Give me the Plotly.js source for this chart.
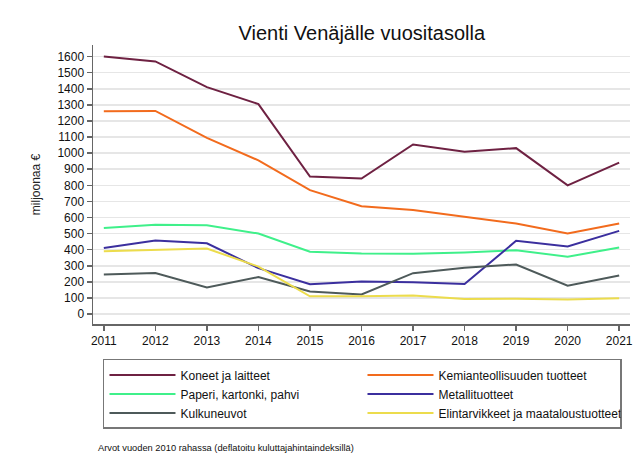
<!DOCTYPE html>
<html>
<head>
<meta charset="utf-8">
<script src="https://cdn.plot.ly/plotly-3.0.1.min.js"></script>
<style>html,body{margin:0;padding:0;background:#fff;}#chart{width:637px;height:468px;}</style>
</head>
<body>
<div id="chart"></div>
<script>
const years = [2011, 2012, 2013, 2014, 2015, 2016, 2017, 2018, 2019, 2020, 2021];
const koneet = [1600, 1570, 1410, 1305, 855, 842, 1054, 1009, 1031, 800, 941];
const kemia = [1260, 1262, 1095, 955, 770, 670, 647, 604, 562, 500, 562];
const paperi = [535, 555, 552, 500, 387, 376, 374, 383, 397, 356, 413];
const metalli = [410, 457, 440, 285, 185, 202, 198, 186, 455, 420, 517];
const kulku = [245, 255, 165, 230, 140, 122, 254, 288, 308, 176, 240];
const elintarv = [390, 400, 407, 295, 110, 110, 115, 93, 95, 91, 98];
const seriesNames = ["Koneet ja laitteet", "Kemianteollisuuden tuotteet", "Paperi, kartonki, pahvi", "Metallituotteet", "Kulkuneuvot", "Elintarvikkeet ja maataloustuotteet"];
const seriesValues = [koneet, kemia, paperi, metalli, kulku, elintarv];
const colors = ["#6e2142", "#f26b1d", "#3ff08a", "#3b2f9e", "#4e5a5a", "#ecdc4c"];
const yTicks = [0,100,200,300,400,500,600,700,800,900,1000,1100,1200,1300,1400,1500,1600];

const traces = seriesValues.map((v, i) => ({
  x: years, y: v, name: seriesNames[i], type: "scatter", mode: "lines",
  line: {color: colors[i], width: 2}
}));

const layout = {
  width: 637, height: 468,
  margin: {l: 93, r: 7, t: 45, b: 144},
  paper_bgcolor: "#fff", plot_bgcolor: "#fff",
  font: {family: "Liberation Sans, Arial, sans-serif", size: 12, color: "#111"},
  title: {text: "Vienti Venäjälle vuositasolla", font: {size: 20, color: "#111"}, x: 0.568, xanchor: "center", y: 0.93, yanchor: "middle"},
  xaxis: {
    range: [2010.79, 2021.21], tickvals: years, ticktext: years.map(String),
    showgrid: false, zeroline: false, showline: true, linecolor: "#666", linewidth: 1.5,
    ticks: "outside", ticklen: 5, tickcolor: "#666", tickwidth: 1.5,
    tickfont: {size: 12, color: "#111"}
  },
  yaxis: {
    range: [-62, 1672], tickvals: yTicks, ticktext: yTicks.map(String),
    showgrid: true, gridcolor: "#e6e6e6", gridwidth: 1.5, zeroline: false,
    showline: true, linecolor: "#666", linewidth: 1.5,
    ticks: "outside", ticklen: 5, tickcolor: "#666", tickwidth: 1.5,
    tickfont: {size: 12, color: "#111"},
    title: {text: "miljoonaa €", font: {size: 12, color: "#222"}, standoff: 14}
  },
  showlegend: true,
  legend: {
    orientation: "h", x: 0.0186, xanchor: "left", y: -0.125, yanchor: "top",
    bordercolor: "#777", borderwidth: 1.5, bgcolor: "#fff",
    font: {size: 12, color: "#111"}, entrywidth: 177, entrywidthmode: "pixels",
    itemwidth: 66, traceorder: "normal"
  },
  annotations: [{
    text: "Arvot vuoden 2010 rahassa (deflatoitu kuluttajahintaindeksillä)",
    xref: "paper", yref: "paper", x: 0.006, y: -0.445, xanchor: "left", yanchor: "middle",
    showarrow: false, font: {size: 9.3, color: "#111"}
  }]
};
Plotly.newPlot("chart", traces, layout, {displayModeBar: false, staticPlot: true});
</script>
</body>
</html>
